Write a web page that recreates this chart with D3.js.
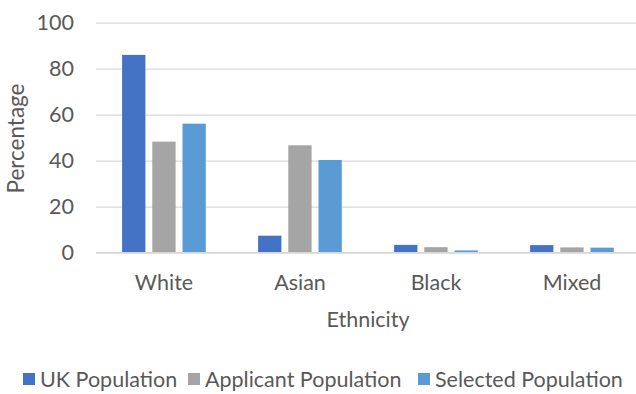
<!DOCTYPE html>
<html>
<head>
<meta charset="utf-8">
<script src="https://cdn.jsdelivr.net/npm/d3@7"></script>
<style>
  html, body { margin: 0; padding: 0; background: #fff; }
  svg text { font-family: Lato, "Open Sans", sans-serif; fill: #595959; }
</style>
</head>
<body>
<svg id="chart" width="636" height="394"></svg>
<script>
// Ethnicity breakdown (%) for each population
const categories = ["White", "Asian", "Black", "Mixed"];
const seriesNames = ["UK Population", "Applicant Population", "Selected Population"];
const ukPopulation = [86.0, 7.4, 3.4, 3.3];
const applicantPopulation = [48.3, 46.7, 2.4, 2.3];
const selectedPopulation = [56.1, 40.3, 1.0, 2.2];
const yTicks = [0, 20, 40, 60, 80, 100];
const colors = ["#4472C4", "#A5A5A5", "#5B9BD5"];

const seriesValues = [ukPopulation, applicantPopulation, selectedPopulation];
const rows = categories.map((c, i) => ({
  category: c,
  values: seriesNames.map((s, k) => ({ series: s, value: seriesValues[k][i] }))
}));

const svg = d3.select("#chart");
const fontSize = 21.5;
const fontFamily = "Lato, 'Open Sans', sans-serif";

const x0 = d3.scaleBand().domain(categories).range([96, 640]).padding(0);
const x1 = d3.scaleBand().domain(seriesNames).range([26.1, 109.8]).paddingInner(0.228).paddingOuter(0);
const y = d3.scaleLinear().domain([0, 100]).range([252.7, 22.7]);
const color = d3.scaleOrdinal().domain(seriesNames).range(colors);

// horizontal gridlines and value labels
const yAxis = d3.axisLeft(y).tickValues(yTicks).tickSize(-(640 - 96)).tickPadding(22);
const gy = svg.append("g").attr("transform", "translate(96,0)").call(yAxis);
gy.select(".domain").remove();
gy.selectAll(".tick line").attr("stroke", "#d9d9d9").attr("stroke-width", 1.2);
gy.selectAll(".tick text")
  .attr("font-size", fontSize)
  .style("font-family", fontFamily)
  .attr("fill", "#595959");

// grouped bars
const groups = svg.append("g").selectAll("g")
  .data(rows).join("g")
  .attr("transform", d => `translate(${x0(d.category)},0)`);

groups.selectAll("rect")
  .data(d => d.values).join("rect")
  .attr("x", d => x1(d.series))
  .attr("width", x1.bandwidth())
  .attr("y", d => y(d.value))
  .attr("height", d => y(0) - y(d.value))
  .attr("fill", d => color(d.series));

// baseline
svg.append("line")
  .attr("x1", 96).attr("x2", 640)
  .attr("y1", y(0)).attr("y2", y(0))
  .attr("stroke", "#d9d9d9").attr("stroke-width", 1.5);

// category labels
const xAxis = d3.axisBottom(x0).tickSize(0).tickPadding(22);
const gx = svg.append("g").attr("transform", `translate(0,${y(0)})`).call(xAxis);
gx.select(".domain").remove();
gx.selectAll(".tick text")
  .attr("font-size", fontSize)
  .style("font-family", fontFamily)
  .attr("fill", "#595959");

// axis titles
svg.append("text")
  .attr("x", 368).attr("y", 326.5)
  .attr("text-anchor", "middle")
  .attr("font-size", fontSize)
  .text("Ethnicity");

svg.append("text")
  .attr("transform", "translate(23.5,138.5) rotate(-90)")
  .attr("text-anchor", "middle")
  .attr("font-size", 22.5)
  .text("Percentage");

// legend
const legendX = [23, 188, 418];
const legend = svg.append("g").selectAll("g")
  .data(seriesNames).join("g")
  .attr("transform", (d, i) => `translate(${legendX[i]},373)`);
legend.append("rect")
  .attr("width", 12).attr("height", 12)
  .attr("fill", d => color(d));
legend.append("text")
  .attr("x", 17).attr("y", 13.7)
  .attr("font-size", fontSize)
  .text(d => d);
</script>
</body>
</html>
